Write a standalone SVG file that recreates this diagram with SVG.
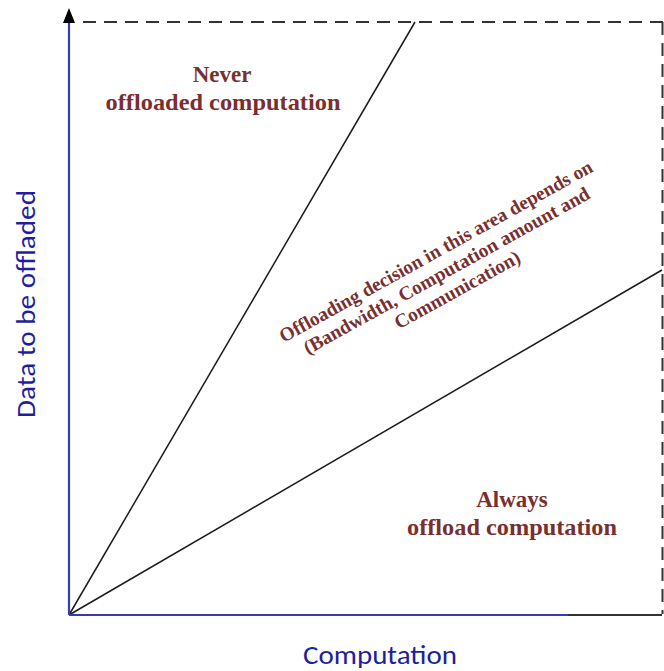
<svg xmlns="http://www.w3.org/2000/svg" width="664" height="671" viewBox="0 0 664 671">
<style>
.lbl{font-family:"Liberation Serif","Times New Roman",serif;font-weight:bold;fill:#7a2f2f;text-anchor:middle}
.ax{font-family:"Carlito","Liberation Sans",Arial,sans-serif;fill:#1f1f9e;text-anchor:middle}
.dash{stroke:#333;stroke-width:2;stroke-dasharray:13 8;fill:none}
.bl{stroke:#3b3bb0;stroke-width:2.2;fill:none}
.div{stroke:#1a1a1a;stroke-width:1.5;fill:none}
</style>
<rect width="664" height="671" fill="#fff"/>
<g id="frame">
<path class="dash" d="M83,22 H664"/>
<path class="dash" d="M662.5,22 V614"/>
</g>
<g id="connectors">
<path class="div" d="M69,615 L415,22"/>
<path class="div" d="M69,615 L662,270"/>
</g>
<g id="axes">
<path d="M567,615 H662" stroke="#333" stroke-width="2.2"/>
<path class="bl" d="M69,615 H568"/>
<path class="bl" d="M69,615 V22"/>
<path d="M69,8 L63,23 L75,23 Z" fill="#000"/>
</g>
<g id="never">
<text class="lbl" font-size="23" x="222" y="82">Never</text>
<text class="lbl" font-size="23" x="223" y="110" textLength="235" lengthAdjust="spacingAndGlyphs">offloaded computation</text>
</g>
<g id="always">
<text class="lbl" font-size="23" x="512" y="507">Always</text>
<text class="lbl" font-size="23" x="512" y="535" textLength="210" lengthAdjust="spacingAndGlyphs">offload computation</text>
</g>
<g id="depends" transform="translate(439,257) rotate(-29)">
<text class="lbl" font-size="19.5" x="0" y="0" textLength="355" lengthAdjust="spacingAndGlyphs">Offloading decision in this area depends on</text>
<text class="lbl" font-size="19.5" x="0" y="22">(Bandwidth, Computation amount and</text>
<text class="lbl" font-size="19.5" x="0" y="44">Communication)</text>
</g>
<g id="ylabel">
<text class="ax" font-size="26" transform="translate(35,304) rotate(-90)" textLength="228" lengthAdjust="spacingAndGlyphs">Data to be offladed</text>
</g>
<g id="xlabel">
<text class="ax" font-size="26" x="380" y="664" textLength="154" lengthAdjust="spacingAndGlyphs">Computation</text>
</g>
</svg>
